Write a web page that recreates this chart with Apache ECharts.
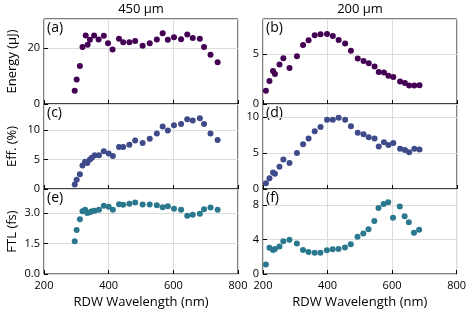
<!DOCTYPE html>
<html><head><meta charset="utf-8">
<script src="https://cdn.jsdelivr.net/npm/echarts@6/dist/echarts.min.js"></script>
<style>html,body{margin:0;padding:0;background:#fff}#c{width:469px;height:318px}</style>
</head><body><div id="c"></div>
<script>
// ---- data ----
const columnTitles = ['450 μm', '200 μm'];
const rowNames = ['Energy (μJ)', 'Eff. (%)', 'FTL (fs)'];
const panelLetters = ['(a)', '(b)', '(c)', '(d)', '(e)', '(f)'];
const xTicks = [200, 400, 600, 800];

const wlA = [295,301,311,319,329,335,342,355,369,385,398,412,432,445,464,482,505,527,549,567,583,602,624,643,660,682,695,715,737];
const energyA = [4.7,8.8,13.6,20.4,24.5,21.2,23.0,24.5,23.1,24.4,21.7,19.5,23.3,22.1,22.1,22.5,20.8,21.7,23.1,25.3,23.0,23.9,23.2,24.9,23.6,23.3,20.4,17.6,14.9];

const wl450 = [295,301,311,319,327,334,342,348,357,370,385,400,413,432,445,464,482,505,527,549,567,583,602,624,643,660,682,695,715,737];
const eff450 = [0.75,1.55,2.5,4.0,4.6,4.4,5.0,5.3,5.7,5.7,6.4,6.0,5.6,7.1,7.1,7.5,8.2,7.8,8.5,9.4,10.6,9.9,10.8,11.0,11.8,11.6,12.0,11.0,9.4,8.3];
const ftl450 = [1.62,2.18,2.71,3.10,3.17,3.02,3.05,3.10,3.12,3.17,3.37,3.32,3.17,3.45,3.42,3.47,3.53,3.43,3.43,3.40,3.30,3.35,3.22,3.18,2.88,2.93,2.98,3.20,3.28,3.18];

const wl200 = [209,220,231,237,251,263,282,305,324,341,360,378,398,416,434,454,472,493,511,527,545,558,574,588,603,624,639,652,668,684];
const energy200 = [1.32,2.30,3.29,3.0,3.95,4.57,3.59,4.77,5.89,6.38,6.88,6.97,7.0,6.8,6.41,6.05,5.33,4.54,4.31,4.08,3.75,3.19,3.16,2.83,2.70,2.24,2.11,1.84,1.84,1.88];
const eff200 = [0.8,1.5,2.3,2.1,3.1,4.1,3.6,5.0,6.2,7.0,8.0,8.6,9.6,9.6,9.9,9.6,8.7,7.8,7.6,7.2,7.0,5.9,6.5,6.1,6.4,5.6,5.4,5.1,5.6,5.5];
const ftl200 = [1.1,3.07,2.8,2.9,3.2,3.8,4.0,3.54,2.8,2.56,2.48,2.48,2.76,2.87,2.91,3.1,3.46,4.33,4.72,5.2,6.18,7.68,8.15,8.35,6.54,7.87,6.73,6.02,4.8,5.16];

// ---- layout ----
const FONT = 'Open Sans';
const colors = ['#440154', '#3e4a89', '#2a788e'];
const lefts = [44, 263], W = 194, tops = [19, 104, 189], H = 85;
const yCfg = [
  [{max:30.4, interval:20}, {max:8.5, interval:5}],
  [{max:14.4, interval:5}, {max:11.8, interval:5}],
  [{max:4.2, interval:1.5, dec:1}, {max:9.9, interval:4}]
];
const panels = [
  [[wlA, energyA], [wl200, energy200]],
  [[wl450, eff450], [wl200, eff200]],
  [[wl450, ftl450], [wl200, ftl200]]
];

const grid = [], xAxis = [], yAxis = [], series = [], graphic = [];
let k = 0;
for (let r = 0; r < 3; r++) {
  for (let c = 0; c < 2; c++) {
    grid.push({left: lefts[c], top: tops[r], width: W, height: H, show: true,
      borderColor: '#000', borderWidth: 1, backgroundColor: 'transparent'});
    const bottom = r === 2;
    xAxis.push({gridIndex: k, type: 'value', min: xTicks[0], max: xTicks[xTicks.length-1], interval: 200,
      axisLine: {show: false},
      axisTick: {show: true, inside: true, length: 4, lineStyle: {color: '#000'}},
      axisLabel: {show: bottom, fontFamily: FONT, fontSize: 11, color: '#000', margin: 6},
      splitLine: {show: true, lineStyle: {color: '#dcdcdc', width: 1}},
      name: bottom ? 'RDW Wavelength (nm)' : '', nameLocation: 'middle', nameGap: 22,
      nameTextStyle: {fontFamily: FONT, fontSize: 13, color: '#000'}});
    const yc = yCfg[r][c];
    yAxis.push({gridIndex: k, type: 'value', min: 0, max: yc.max, interval: yc.interval,
      axisLine: {show: false},
      axisTick: {show: true, inside: true, length: 4, lineStyle: {color: '#000'}},
      axisLabel: {fontFamily: FONT, fontSize: 11, color: '#000', margin: 4, showMaxLabel: false,
        formatter: v => yc.dec ? v.toFixed(yc.dec) : String(v)},
      splitLine: {show: true, lineStyle: {color: '#dcdcdc', width: 1}},
      name: c === 0 ? rowNames[r] : '', nameLocation: 'middle', nameGap: 25,
      nameTextStyle: {fontFamily: FONT, fontSize: 13, color: '#000'}});
    const [xs, ys] = panels[r][c];
    series.push({type: 'scatter', xAxisIndex: k, yAxisIndex: k, symbolSize: 6,
      itemStyle: {color: colors[r], opacity: 1},
      data: xs.map((x, i) => [x, ys[i]])});
    graphic.push({type: 'text', left: lefts[c] + 3, top: tops[r] + 2,
      style: {text: panelLetters[k], fontFamily: FONT, fontSize: 14, fill: '#000'}});
    k++;
  }
}
columnTitles.forEach((t, c) => graphic.push({type: 'text', x: lefts[c] + W/2, y: 9,
  style: {text: t, fontFamily: FONT, fontSize: 13, fill: '#000', align: 'center', verticalAlign: 'middle'}}));

const chart = echarts.init(document.getElementById('c'), null, {renderer: 'canvas'});
chart.setOption({animation: false, grid, xAxis, yAxis, series, graphic});
</script></body></html>
